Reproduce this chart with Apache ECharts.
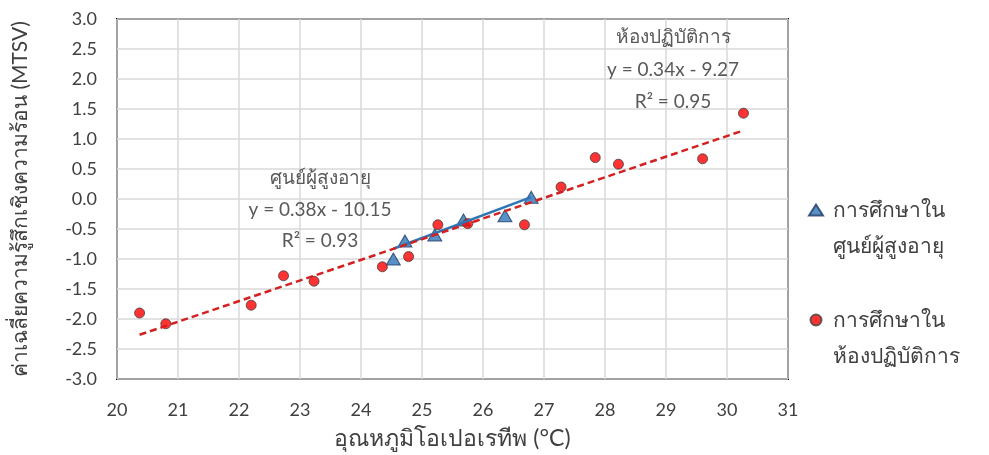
<!DOCTYPE html>
<html>
<head>
<meta charset="utf-8">
<script src="https://cdn.jsdelivr.net/npm/echarts@6/dist/echarts.min.js"></script>
<style>
  html, body { margin: 0; padding: 0; background: #fff; }
  #chart { width: 989px; height: 455px; }
</style>
</head>
<body>
<div id="chart"></div>
<script>
// Operative temperature (°C) vs mean thermal sensation vote (MTSV)
const centerTemp = [24.53, 24.72, 25.21, 25.68, 26.36, 26.79];
const centerMTSV = [-1.00, -0.70, -0.60, -0.35, -0.28, 0.03];

const labTemp = [20.37, 20.80, 22.20, 22.73, 23.23, 24.35, 24.78, 25.26, 25.75, 26.68, 27.28, 27.84, 28.22, 29.60, 30.27];
const labMTSV = [-1.90, -2.08, -1.77, -1.28, -1.37, -1.13, -0.96, -0.43, -0.41, -0.43, 0.20, 0.69, 0.58, 0.67, 1.43];

const seriesNames = ['การศึกษาใน\nศูนย์ผู้สูงอายุ', 'การศึกษาใน\nห้องปฏิบัติการ'];
const groupTitles = ['ศูนย์ผู้สูงอายุ', 'ห้องปฏิบัติการ'];

// linear trend lines: y = slope * x + intercept
const trendSlope = [0.38, 0.344];
const trendIntercept = [-10.15, -9.27];
const trendR2 = [0.93, 0.95];

const xAxisName = 'อุณหภูมิโอเปอเรทีพ (°C)';
const yAxisName = 'ค่าเฉลี่ยความรู้สึกเชิงความร้อน (MTSV)';

const FONT = 'Lato, "Noto Sans", sans-serif';

function pairs(xs, ys) { return xs.map((x, i) => [x, ys[i]]); }
function trend(xs, k) {
  const lo = Math.min(...xs), hi = Math.max(...xs);
  return [[lo, trendSlope[k] * lo + trendIntercept[k]], [hi, trendSlope[k] * hi + trendIntercept[k]]];
}
function eqText(k) {
  const b = trendIntercept[k];
  return 'y = ' + trendSlope[k].toFixed(2) + 'x ' + (b < 0 ? '- ' : '+ ') + Math.abs(b).toFixed(2);
}

const chart = echarts.init(document.getElementById('chart'), null, { renderer: 'canvas' });

const annoStyle = { fill: '#595959', font: '19px ' + FONT, textAlign: 'center', textVerticalAlign: 'middle' };
function anno(text, x, y) {
  return { type: 'text', x: x, y: y, z: 10, style: Object.assign({ text: text }, annoStyle) };
}

chart.setOption({
  animation: false,
  backgroundColor: '#fff',
  grid: { left: 117, top: 19, right: 201, bottom: 76, show: true, borderColor: '#000', borderWidth: 2, backgroundColor: 'transparent' },
  xAxis: {
    type: 'value', min: 20, max: 31, interval: 1,
    name: xAxisName, nameLocation: 'middle', nameGap: 48,
    nameTextStyle: { color: '#404040', fontSize: 23, fontFamily: FONT },
    axisLine: { show: false }, axisTick: { show: false },
    axisLabel: { color: '#404040', fontSize: 18, fontFamily: FONT, margin: 22 },
    splitLine: { show: true, lineStyle: { color: '#d9d9d9', width: 1.5 } }
  },
  yAxis: {
    type: 'value', min: -3, max: 3, interval: 0.5,
    name: yAxisName, nameLocation: 'middle', nameGap: 86, nameRotate: 90,
    nameTextStyle: { color: '#404040', fontSize: 21, fontFamily: FONT },
    axisLine: { show: false }, axisTick: { show: false },
    axisLabel: { color: '#404040', fontSize: 18, fontFamily: FONT, margin: 20, formatter: v => v.toFixed(1) },
    splitLine: { show: true, lineStyle: { color: '#d9d9d9', width: 1.5 } }
  },
  legend: {
    orient: 'vertical', left: 803, top: 151, itemGap: 2,
    itemWidth: 14, itemHeight: 11,
    textStyle: { color: '#404040', fontSize: 21, fontFamily: FONT, lineHeight: 36 },
    formatter: name => ' \n ' + name.replace('\n', '\n '),
    data: [
      { name: seriesNames[0], icon: 'triangle' },
      { name: seriesNames[1], icon: 'circle' }
    ]
  },
  series: [
    {
      name: seriesNames[0], type: 'scatter', symbol: 'triangle', symbolSize: [14, 12], z: 3,
      itemStyle: { color: '#2E75B6', borderColor: '#1F3864', borderWidth: 1 },
      data: pairs(centerTemp, centerMTSV)
    },
    {
      name: seriesNames[1], type: 'scatter', symbol: 'circle', symbolSize: 10, z: 4,
      itemStyle: { color: '#FF0000', borderColor: '#404040', borderWidth: 1 },
      data: pairs(labTemp, labMTSV)
    },
    {
      type: 'line', symbol: 'none', silent: true, z: 5,
      lineStyle: { color: '#2E75B6', width: 2.5 },
      data: trend(centerTemp, 0)
    },
    {
      type: 'line', symbol: 'none', silent: true, z: 6,
      lineStyle: { color: '#D42020', width: 2.5, type: [7, 4] },
      data: trend(labTemp, 1)
    }
  ],
  graphic: [
    anno(groupTitles[0], 320, 178),
    anno(eqText(0), 320, 210),
    anno('R² = ' + trendR2[0].toFixed(2), 320, 241),
    anno(groupTitles[1], 673, 37),
    anno(eqText(1), 673, 70),
    anno('R² = ' + trendR2[1].toFixed(2), 673, 102)
  ]
});
</script>
</body>
</html>
